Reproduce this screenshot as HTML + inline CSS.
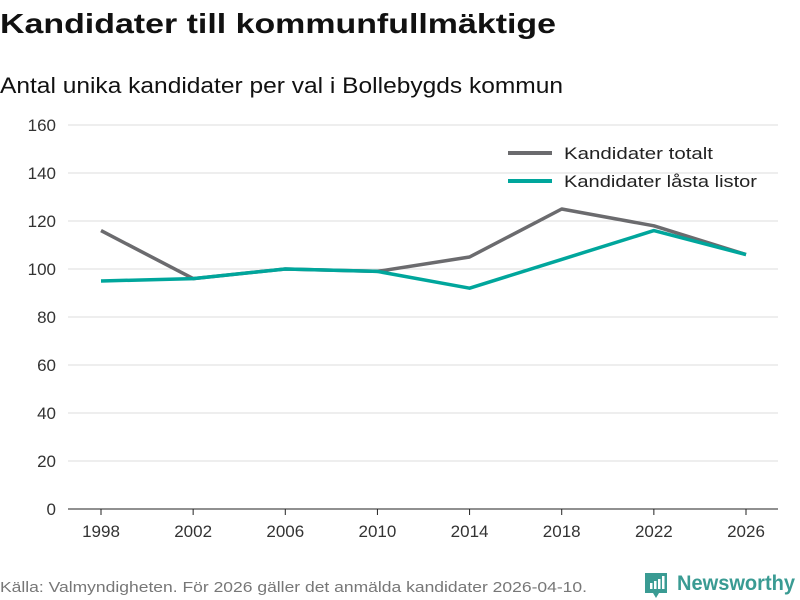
<!DOCTYPE html>
<html><head><meta charset="utf-8"><style>
body{margin:0;background:#fff;}
svg{display:block;font-family:"Liberation Sans","DejaVu Sans",sans-serif;}
</style></head><body>
<svg id="chart" width="800" height="600">
<text x="0" y="33" font-size="28" font-weight="bold" fill="#111" textLength="556" lengthAdjust="spacingAndGlyphs">Kandidater till kommunfullmäktige</text>
<text x="0" y="93" font-size="22" fill="#111" textLength="563" lengthAdjust="spacingAndGlyphs">Antal unika kandidater per val i Bollebygds kommun</text>
<g id="grid"></g><g id="axes"></g><g id="series"></g>
<g>
<line x1="508" y1="153" x2="552" y2="153" stroke="#6b6b6e" stroke-width="4"/>
<text x="564" y="159" font-size="17" fill="#222" textLength="149" lengthAdjust="spacingAndGlyphs">Kandidater totalt</text>
<line x1="508" y1="181" x2="552" y2="181" stroke="#00a69c" stroke-width="4"/>
<text x="564" y="187" font-size="17" fill="#222" textLength="193" lengthAdjust="spacingAndGlyphs">Kandidater låsta listor</text>
</g>
<text x="0" y="592" font-size="15" fill="#777" textLength="587" lengthAdjust="spacingAndGlyphs">Källa: Valmyndigheten. För 2026 gäller det anmälda kandidater 2026-04-10.</text>
<g>
<path d="M645 573h22v20h-8l-3 5-3-5h-8z" fill="#3a9b93"/>
<rect x="650" y="583" width="2.5" height="6" fill="#fff"/><rect x="654" y="581" width="2.5" height="8" fill="#fff"/><rect x="658" y="579" width="2.5" height="10" fill="#fff"/><rect x="662" y="576" width="2.5" height="13" fill="#fff"/>
<text x="677" y="590" font-size="21" font-weight="bold" fill="#3a9b93" textLength="118" lengthAdjust="spacingAndGlyphs">Newsworthy</text>
</g>
</svg>
<script>
const years=[1998,2002,2006,2010,2014,2018,2022,2026];
const totalValues=[116,96,100,99,105,125,118,106];
const lockedValues=[95,96,100,99,92,104,116,106];
const yTicks=[0,20,40,60,80,100,120,140,160];
const NS="http://www.w3.org/2000/svg";
const x=v=>101+(v-1998)*(746-101)/28;
const y=v=>509-v*(509-125)/160;
function mk(t,a,p){const e=document.createElementNS(NS,t);for(const k in a)e.setAttribute(k,a[k]);p.appendChild(e);return e;}
const grid=document.getElementById('grid'),axes=document.getElementById('axes'),series=document.getElementById('series');
yTicks.forEach(t=>{
 const l=mk('line',{x1:68,x2:778,y1:y(t),y2:y(t),stroke:t===0?'#222':'#ddd','stroke-width':1},grid);
 
 
 const tx=mk('text',{x:56,y:y(t)+6,'text-anchor':'end','font-size':17,fill:'#333'},axes);
 tx.textContent=t;
 
 
});
years.forEach(yr=>{
 const tk=mk('line',{x1:x(yr),x2:x(yr),y1:509,y2:515,stroke:'#222'},axes);
 
 
 const tx=mk('text',{x:x(yr),y:537,'text-anchor':'middle','font-size':17,fill:'#333'},axes);
 tx.textContent=yr;
 
 
});
function line(vals,color,name){
 const p=mk('polyline',{points:vals.map((v,i)=>x(years[i])+','+y(v)).join(' '),fill:'none',stroke:color,'stroke-width':3.5,'stroke-linejoin':'round'},series);
 
 
}
line(totalValues,'#6b6b6e','line-kandidater-totalt');
line(lockedValues,'#00a69c','line-kandidater-lasta-listor');
</script>
</body></html>
